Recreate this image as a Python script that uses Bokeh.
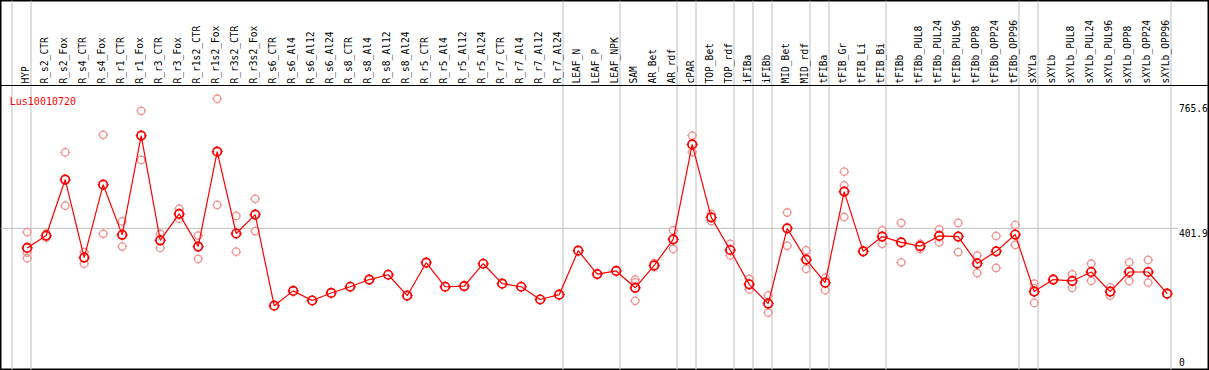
import math
from bokeh.plotting import figure
from bokeh.models import Range1d, Span, Label
from bokeh.core.properties import value
from bokeh.embed import file_html
from bokeh.resources import INLINE

gene = "Lus10010720"

categories = [
    "HYP", "R_s2_CTR", "R_s2_Fox", "R_s4_CTR", "R_s4_Fox", "R_r1_CTR", "R_r1_Fox",
    "R_r3_CTR", "R_r3_Fox", "R_r1s2_CTR", "R_r1s2_Fox", "R_r3s2_CTR", "R_r3s2_Fox",
    "R_s6_CTR", "R_s6_Al4", "R_s6_Al12", "R_s6_Al24", "R_s8_CTR", "R_s8_Al4",
    "R_s8_Al12", "R_s8_Al24", "R_r5_CTR", "R_r5_Al4", "R_r5_Al12", "R_r5_Al24",
    "R_r7_CTR", "R_r7_Al4", "R_r7_Al12", "R_r7_Al24", "LEAF_N", "LEAF_P", "LEAF_NPK",
    "SAM", "AR_Bet", "AR_rdf", "cPAR", "TOP_Bet", "TOP_rdf", "iFIBa", "iFIBb",
    "MID_Bet", "MID_rdf", "tFIBa", "tFIB_Gr", "tFIB_Li", "tFIB_Bi", "tFIBb",
    "tFIBb_PUL8", "tFIBb_PUL24", "tFIBb_PUL96", "tFIBb_OPP8", "tFIBb_OPP24",
    "tFIBb_OPP96", "sXYLa", "sXYLb", "sXYLb_PUL8", "sXYLb_PUL24", "sXYLb_PUL96",
    "sXYLb_OPP8", "sXYLb_OPP24", "sXYLb_OPP96",
]

means = [
    345, 381, 544, 317, 529, 383, 672, 367, 444, 349, 625, 387, 442,
    177, 220, 192, 214, 232, 253, 267, 206, 302, 232, 234, 299, 241, 232, 195, 209,
    337, 269, 278, 229, 294, 370, 646, 434, 339, 239, 183, 402, 311, 244, 509, 335,
    378, 361, 350, 380, 378, 300, 335, 384, 218, 253, 249, 275, 218, 275, 275, 212,
]

rep1 = [
    391, 387, 623, 333, 674, 422, 744, 386, 459, 381, 779, 438, 488,
    None, None, None, None, None, None, None, None, None, None, None, None, None, None, None, None,
    None, None, None, 253, 301, 396, 672, 444, 357, 255, 207, 448, 338, 258, 567, 337,
    396, 418, 357, 399, 418, 323, 380, 412, 241, 255, 268, 299, 230, 303, 310, 214,
]
rep2 = [
    331, 375, 468, 299, 386, 349, 601, 345, 430, 313, 470, 334, 394,
    None, None, None, None, None, None, None, None, None, None, None, None, None, None, None, None,
    None, None, None, 245, 289, 342, 624, 423, 323, 224, 157, 351, 284, 222, 527, 333,
    357, 303, 342, 361, 333, 272, 287, 354, 228, 251, 229, 249, 206, 249, 244, 210,
]
rep3 = [
    315, None, None, None, None, None, None, None, None, None, None, None, None,
    None, None, None, None, None, None, None, None, None, None, None, None, None, None, None, None,
    None, None, None, 191, None, None, None, None, None, None, None, None, None, None, 435, None,
    None, None, None, None, None, None, None, None, 185, None, None, None, None, None, None, None,
]

# categories after which a group separator is drawn (plus one leading separator)
separator_after = ["HYP", "R_r7_Al24", "LEAF_NPK", "AR_rdf", "cPAR", "TOP_rdf", "iFIBa",
                   "iFIBb", "MID_rdf", "tFIBa", "tFIB_Bi", "tFIBb_OPP96", "sXYLa", "sXYLb_OPP96"]

tick_values = [0, 401.9, 765.6]
tick_labels = ["0", "401.9", "765.6"]

MAIN = "#ff0000"
REP = "#f09494"
GRID = "#c0c0c0"
FONT = "DejaVu Sans Mono"

idx = list(range(len(categories)))

p = figure(width=1209, height=370, output_backend="svg", toolbar_location=None,
           x_axis_type=None, y_axis_type=None, min_border=0,
           x_range=Range1d(-1.405, 62.226), y_range=Range1d(-11.64, 1064.9))
p.outline_line_color = "black"
p.outline_line_width = 2
p.background_fill_color = "white"

header_base = 817.6

# vertical group separators
p.add_layout(Span(location=-0.8, dimension="height", line_color=GRID, line_width=1, level="underlay"))
for c in separator_after:
    p.add_layout(Span(location=categories.index(c) + 0.2, dimension="height",
                      line_color=GRID, line_width=1, level="underlay"))

# horizontal grid line at middle tick
mid = tick_values[1]
gr = p.segment(x0=[-1.405], y0=[mid], x1=[60.55], y1=[mid], line_color=GRID, line_width=1)
gr.level = "underlay"

# header separator
p.add_layout(Span(location=header_base, dimension="width", line_color="black", line_width=1))

# header labels
p.text(x=idx, y=[header_base] * len(idx), text=categories, angle=math.pi / 2,
       text_align="left", text_baseline="alphabetic", x_offset=-2, y_offset=-2,
       text_font=value(FONT), text_font_size="9.6px", text_color="black")

# right tick labels
p.text(x=[60.62] * 3, y=tick_values, text=tick_labels, text_align="left",
       text_baseline="alphabetic", y_offset=[-4, 5, 5],
       text_font=value(FONT), text_font_size="9.6px", text_color="black")

# replicate points
rx, ry = [], []
for r in (rep1, rep2, rep3):
    for i, v in zip(idx, r):
        if v is not None:
            rx.append(i)
            ry.append(v)
p.scatter(rx, ry, marker="cross", size=10, line_color=REP, line_width=1)
p.scatter(rx, ry, marker="circle", size=6, fill_color="white", line_color=None)
p.scatter(rx, ry, marker="circle", size=7.5, fill_color=None, line_color=REP, line_width=1.3)

# main points and line
p.scatter(idx, means, marker="cross", size=11, line_color=MAIN, line_width=1.3)
p.scatter(idx, means, marker="circle", size=7, fill_color="white", line_color=None)
p.line(idx, means, line_color=MAIN, line_width=1.2)
p.scatter(idx, means, marker="circle", size=8.5, fill_color=None, line_color=MAIN, line_width=1.7)

p.add_layout(Label(x=-0.916, y=771, text=gene, text_color=MAIN, text_font=FONT,
                   text_font_size="10px", text_baseline="alphabetic", text_align="left"))

open("out.html", "w").write(file_html(p, INLINE))
